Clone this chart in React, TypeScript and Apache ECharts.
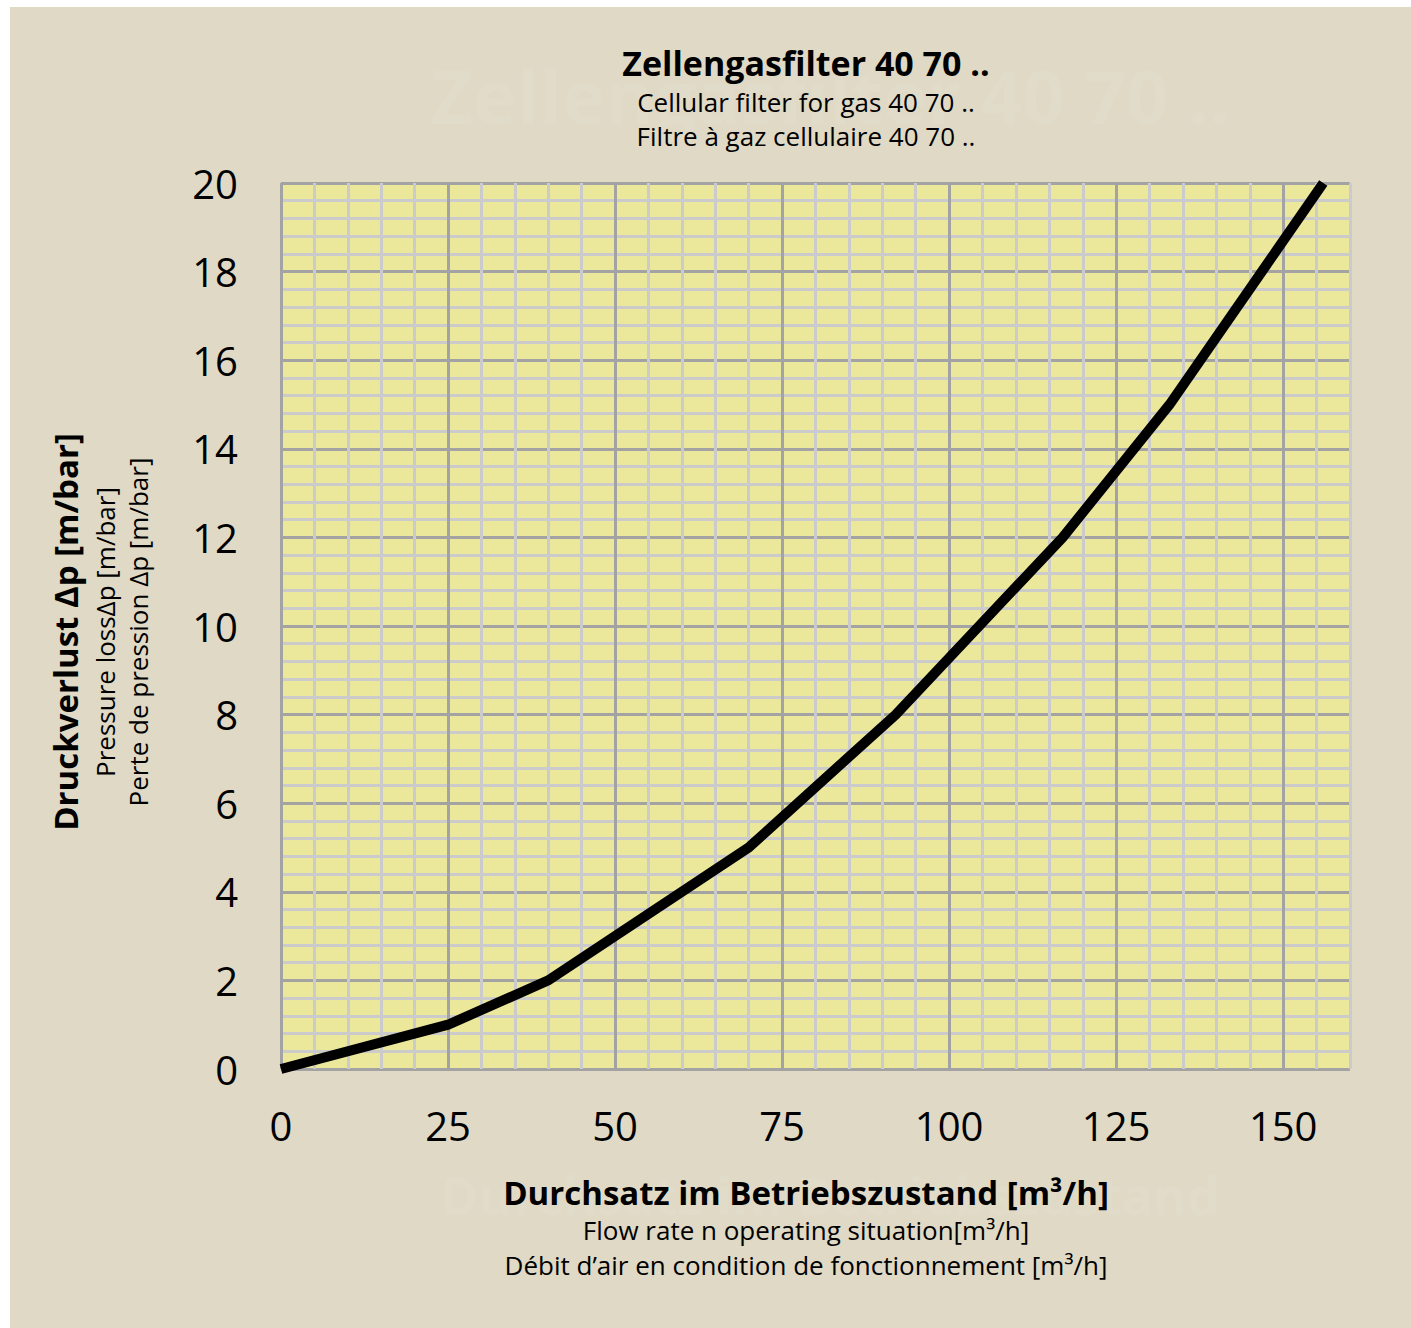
import React, { useEffect, useRef } from "react";
import * as echarts from "echarts";

const flowRate = [0, 25, 40, 70, 92, 117, 133, 156];
const pressureLoss = [0, 1, 2, 5, 8, 12, 15, 20];

const titleMain = "Zellengasfilter 40 70 ..";
const titleEn = "Cellular filter for gas 40 70 ..";
const titleFr = "Filtre à gaz cellulaire 40 70 ..";
const xNameDe = "Durchsatz im Betriebszustand [m³/h]";
const xNameEn = "Flow rate n operating situation[m³/h]";
const xNameFr = "Débit d’air en condition de fonctionnement [m³/h]";
const yNameDe = "Druckverlust Δp [m/bar]";
const yNameEn = "Pressure lossΔp [m/bar]";
const yNameFr = "Perte de pression Δp [m/bar]";
const watermarkTop = "Zellengasfilter 40 70 ..";
const watermarkBottom = "Durchsatz im Betriebszustand";

const X_MIN = 0;
const X_MAX = 160;
const X_STEP = 5;
const X_LABEL_STEP = 25;
const Y_MIN = 0;
const Y_MAX = 20;
const Y_STEP = 2;

const OFF_X = 10;
const OFF_Y = 7;
const W = 1401;
const H = 1321;

const FONT = "'Open Sans', 'Noto Sans', sans-serif";
const MAJOR = "#a3a3a3";
const MINOR = "#cbcbcb";
const WATERMARK = "rgba(255,255,255,0.07)";

export default function App() {
  const ref = useRef<HTMLDivElement>(null);

  useEffect(() => {
    if (!ref.current) return;
    const chart = echarts.init(ref.current, undefined, { renderer: "svg" });
    const cx = 806 - OFF_X;
    const cy = 632 - OFF_Y;
    const txt = (
      text: string,
      x: number,
      y: number,
      size: number,
      bold: boolean,
      rot = 0,
      fill = "#000",
      z = 10
    ) => ({
      type: "text",
      x,
      y,
      rotation: rot,
      z,
      silent: true,
      style: {
        text,
        fill,
        font: `${bold ? "bold " : ""}${size}px ${FONT}`,
        textAlign: "center",
        textVerticalAlign: "middle",
      },
    });
    chart.setOption({
      animation: false,
      backgroundColor: "#dfd9c5",
      grid: {
        left: 281 - OFF_X,
        top: 183 - OFF_Y,
        right: W - (1350 - OFF_X),
        bottom: H - (1069 - OFF_Y),
        show: true,
        backgroundColor: "#ebe89c",
        borderWidth: 0,
      },
      xAxis: {
        type: "value",
        min: X_MIN,
        max: X_MAX,
        interval: X_STEP,
        axisLine: { show: false },
        axisTick: { show: false },
        axisLabel: {
          margin: 36,
          fontSize: 40,
          color: "#000",
          fontFamily: FONT,
          formatter: (v: number) =>
            Math.abs(v % X_LABEL_STEP) < 1e-6 ? String(v) : "",
        },
        splitLine: {
          show: true,
          lineStyle: {
            width: 3,
            color: [MAJOR, MINOR, MINOR, MINOR, MINOR],
          },
        },
      },
      yAxis: {
        type: "value",
        min: Y_MIN,
        max: Y_MAX,
        interval: Y_STEP,
        axisLine: { show: false },
        axisTick: { show: false },
        minorTick: { show: false, splitNumber: 5 },
        axisLabel: {
          margin: 43,
          fontSize: 40,
          color: "#000",
          fontFamily: FONT,
        },
        splitLine: { show: true, lineStyle: { width: 3, color: MAJOR } },
        minorSplitLine: { show: true, lineStyle: { width: 3, color: MINOR } },
      },
      series: [
        {
          type: "line",
          data: flowRate.map((x, i) => [x, pressureLoss[i]]),
          symbol: "none",
          z: 5,
          lineStyle: { color: "#000", width: 10, cap: "butt", join: "miter" },
        },
      ],
      graphic: [
        txt(watermarkTop, 830 - OFF_X, 95 - OFF_Y, 74, true, 0, WATERMARK, 1),
        txt(watermarkBottom, 830 - OFF_X, 1194 - OFF_Y, 52, true, 0, WATERMARK, 1),
        txt(titleMain, cx, 63 - OFF_Y, 34, true),
        txt(titleEn, cx, 102 - OFF_Y, 26, false),
        txt(titleFr, cx, 136 - OFF_Y, 26, false),
        txt(xNameDe, cx, 1192 - OFF_Y, 33, true),
        txt(xNameEn, cx, 1230 - OFF_Y, 26, false),
        txt(xNameFr, cx, 1265 - OFF_Y, 26, false),
        txt(yNameDe, 65 - OFF_X, cy, 33, true, Math.PI / 2),
        txt(yNameEn, 105 - OFF_X, cy, 26, false, Math.PI / 2),
        txt(yNameFr, 138 - OFF_X, cy, 26, false, Math.PI / 2),
      ],
    });
    return () => chart.dispose();
  }, []);

  return (
    <div
      style={{
        position: "absolute",
        left: 0,
        top: 0,
        width: 1411,
        height: 1328,
        background: "#ffffff",
      }}
    >
      <div
        ref={ref}
        style={{
          position: "absolute",
          left: OFF_X,
          top: OFF_Y,
          width: W,
          height: H,
        }}
      />
    </div>
  );
}
